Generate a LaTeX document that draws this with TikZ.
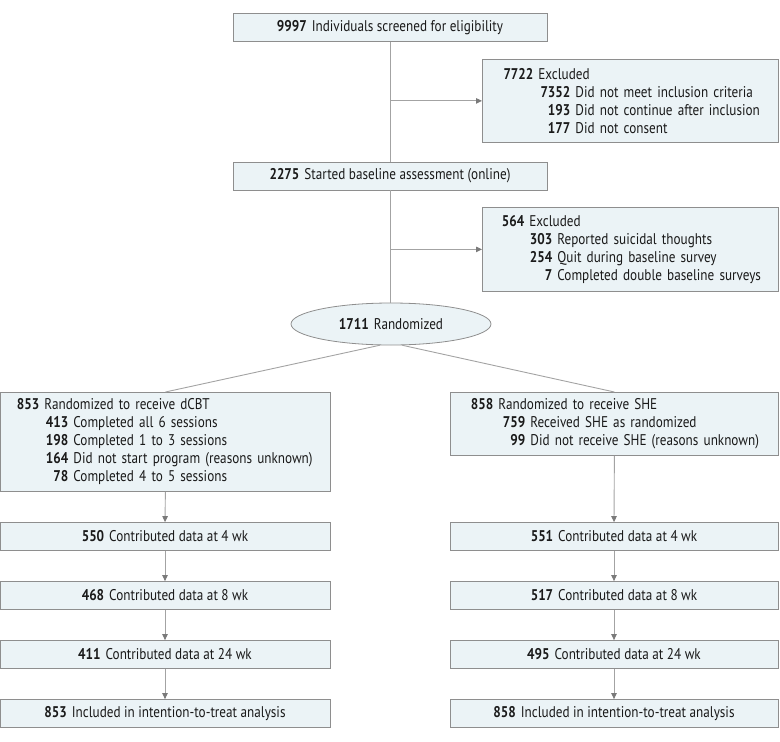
\documentclass[tikz,border=0pt]{standalone}
\usepackage{fontspec}
\setmainfont{PT Sans}[FakeStretch=0.85]
\usetikzlibrary{arrows.meta,shapes.geometric}
\definecolor{boxfill}{HTML}{EBF3F6}
\definecolor{boxdraw}{HTML}{8E8E8E}
\definecolor{linegray}{HTML}{A3A3A3}
\definecolor{tipgray}{HTML}{7A7A7A}
\definecolor{txt}{HTML}{1A1A1A}
% #1 indent, #2 number-box width, #3 number, #4 text
\newcommand{\itemline}[4]{\mbox{\hspace*{#1}\makebox[#2][r]{\textbf{#3}}\hspace{5pt}#4}}
\begin{document}
\begin{tikzpicture}[x=1pt,y=-1pt,font=\fontsize{15.5}{18}\selectfont,text=txt,
  box/.style={draw=boxdraw,fill=boxfill,line width=0.8pt,inner sep=0pt,minimum height=28pt},
  conn/.style={draw=linegray,line width=0.9pt},
  arr/.style={conn,-{Triangle[length=6pt,width=5.5pt,fill=tipgray,color=tipgray]}}]
\useasboundingbox (0,0) rectangle (780,742);

% top trunk
\node[box,minimum width=314pt] (screen) at (390,27.5) {\textbf{9997}\hspace{5pt}Individuals screened for eligibility};
\node[box,minimum width=314pt] (base) at (390,176) {\textbf{2275}\hspace{5pt}Started baseline assessment (online)};
\node[draw=boxdraw,fill=boxfill,line width=0.8pt,ellipse,minimum width=200pt,minimum height=42pt,inner sep=0pt] (rand) at (391,324) {\textbf{1711}\hspace{5pt}Randomized};

% exclusion boxes
\node[box,anchor=north west,minimum height=83pt,inner xsep=21pt,text width=254pt,align=left] (ex1) at (482,59)
 {\itemline{0pt}{30pt}{7722}{Excluded}\\
  \itemline{37pt}{30pt}{7352}{Did not meet inclusion criteria}\\
  \itemline{37pt}{30pt}{193}{Did not continue after inclusion}\\
  \itemline{37pt}{30pt}{177}{Did not consent}};
\node[box,anchor=north west,minimum height=84pt,inner xsep=13pt,text width=270pt,align=left] (ex2) at (482,207)
 {\itemline{0pt}{29pt}{564}{Excluded}\\
  \itemline{28pt}{29pt}{303}{Reported suicidal thoughts}\\
  \itemline{28pt}{29pt}{254}{Quit during baseline survey}\\
  \itemline{28pt}{29pt}{7}{Completed double baseline surveys}};

% arms
\node[box,anchor=north west,minimum height=99pt,inner xsep=10pt,text width=310pt,align=left] (dcbt) at (0,392)
 {\itemline{0pt}{29pt}{853}{Randomized to receive dCBT}\\
  \itemline{29pt}{29pt}{413}{Completed all 6 sessions}\\
  \itemline{29pt}{29pt}{198}{Completed 1 to 3 sessions}\\
  \itemline{29pt}{29pt}{164}{Did not start program (reasons unknown)}\\
  \itemline{29pt}{29pt}{78}{Completed 4 to 5 sessions}};
\node[box,anchor=north west,minimum height=63pt,inner xsep=14pt,text width=300pt,align=left] (she) at (450,392)
 {\itemline{0pt}{29pt}{858}{Randomized to receive SHE}\\
  \itemline{32pt}{29pt}{759}{Received SHE as randomized}\\
  \itemline{32pt}{29pt}{99}{Did not receive SHE (reasons unknown)}};

% left column
\node[box,minimum width=330pt] (l4) at (165,536.5) {\textbf{550}\hspace{5pt}Contributed data at 4 wk};
\node[box,minimum width=330pt] (l8) at (165,595.5) {\textbf{468}\hspace{5pt}Contributed data at 8 wk};
\node[box,minimum width=330pt] (l24) at (165,654.5) {\textbf{411}\hspace{5pt}Contributed data at 24 wk};
\node[box,minimum width=330pt] (litt) at (165,713.5) {\textbf{853}\hspace{5pt}Included in intention-to-treat analysis};

% right column
\node[box,minimum width=328pt] (r4) at (614,536.5) {\textbf{551}\hspace{5pt}Contributed data at 4 wk};
\node[box,minimum width=328pt] (r8) at (614,595.5) {\textbf{517}\hspace{5pt}Contributed data at 8 wk};
\node[box,minimum width=328pt] (r24) at (614,654.5) {\textbf{495}\hspace{5pt}Contributed data at 24 wk};
\node[box,minimum width=328pt] (ritt) at (614,713.5) {\textbf{858}\hspace{5pt}Included in intention-to-treat analysis};

% connectors
\draw[conn] (screen.south) -- (base.north);
\draw[conn] (base.south) -- (rand.north -| base.south);
\draw[arr] (screen.south |- ex1.west) -- (ex1.west);
\draw[arr] (base.south |- ex2.west) -- (ex2.west);
\draw[conn] (rand.-118) -- (dcbt.north);
\draw[conn] (rand.-62) -- (she.north);
\draw[arr] (dcbt.south) -- (l4.north);
\draw[arr] (l4.south) -- (l8.north);
\draw[arr] (l8.south) -- (l24.north);
\draw[arr] (l24.south) -- (litt.north);
\draw[arr] (she.south) -- (r4.north);
\draw[arr] (r4.south) -- (r8.north);
\draw[arr] (r8.south) -- (r24.north);
\draw[arr] (r24.south) -- (ritt.north);
\end{tikzpicture}
\end{document}
